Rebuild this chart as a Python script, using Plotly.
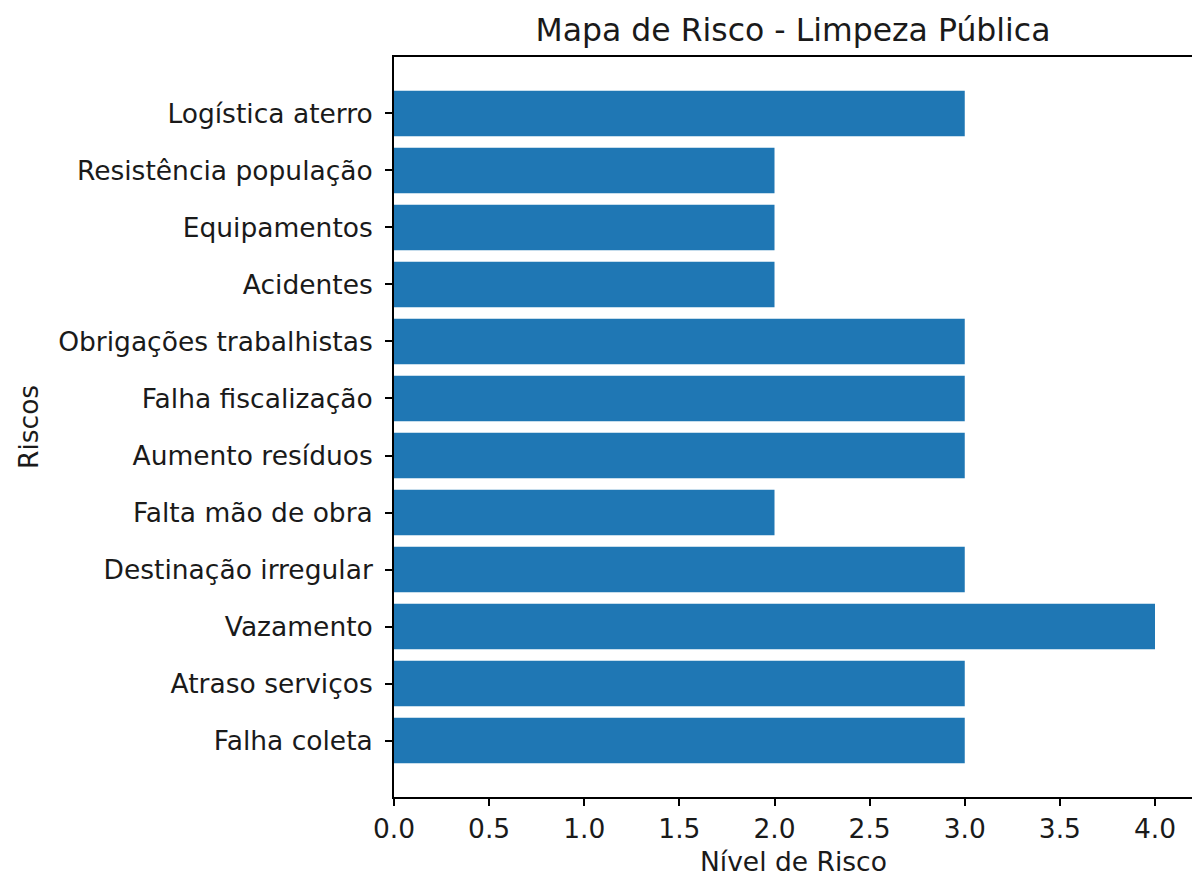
import plotly.graph_objects as go

categories = ["Falha coleta", "Atraso serviços", "Vazamento", "Destinação irregular",
              "Falta mão de obra", "Aumento resíduos", "Falha fiscalização",
              "Obrigações trabalhistas", "Acidentes", "Equipamentos",
              "Resistência população", "Logística aterro"]
values = [3, 3, 4, 3, 2, 3, 3, 3, 2, 2, 2, 3]
x_ticks = [0.0, 0.5, 1.0, 1.5, 2.0, 2.5, 3.0, 3.5, 4.0]

W, H = 1192, 879
L, T, B = 394, 57, 82
px_per_unit = 190.25
x_max = (W - L) / px_per_unit
plot_h = H - T - B
plot_w = W - L

fig = go.Figure(go.Bar(
    x=values, y=list(range(len(categories))), orientation="h",
    marker=dict(color="#1f77b4", line=dict(width=0)), width=0.8,
))

font = "DejaVu Sans, sans-serif"
txt = dict(size=26.5, family=font, color="#1a1a1a")
fig.update_layout(
    width=W, height=H,
    margin=dict(l=L, r=0, t=T, b=B, pad=0),
    paper_bgcolor="white", plot_bgcolor="white",
    font=txt,
    showlegend=False,
    title=dict(text="Mapa de Risco - Limpeza Pública", x=793 / W, xanchor="center",
               y=1 - 30 / H, yanchor="middle", font=dict(size=31.5, family=font, color="#1a1a1a")),
    annotations=[
        dict(text="Riscos", x=(28 - L) / plot_w, xref="paper", y=0.5, yref="paper",
             showarrow=False, textangle=-90, font=txt, xanchor="center", yanchor="middle"),
        dict(text="Nível de Risco", x=(793 - L) / plot_w, xref="paper",
             y=-(861 - (H - B)) / plot_h, yref="paper",
             showarrow=False, font=txt, xanchor="center", yanchor="middle"),
    ],
)
fig.update_xaxes(range=[0, x_max], tickvals=x_ticks,
                 ticktext=[f"{v:.1f}" for v in x_ticks],
                 showgrid=False, zeroline=False, showline=True, linecolor="black", linewidth=1.8,
                 mirror=True, ticks="outside", ticklen=7, tickwidth=1.6, tickcolor="black")
fig.update_yaxes(range=[-0.99, 11.99], tickvals=list(range(len(categories))), ticktext=categories,
                 showgrid=False, zeroline=False, showline=True, linecolor="black", linewidth=1.8,
                 ticks="outside", ticklen=7, tickwidth=1.6, tickcolor="black",
                 ticklabelstandoff=7)

fig.write_html("out.html", config={"displayModeBar": False},
               post_script="document.body.style.margin='0';document.body.style.overflow='hidden';")
